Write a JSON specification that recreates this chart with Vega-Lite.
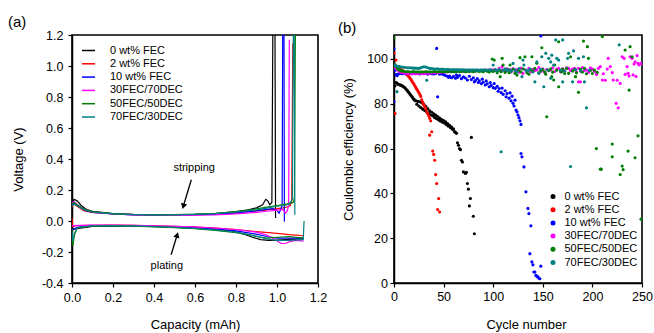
{
"$schema": "https://vega.github.io/schema/vega-lite/v6.json",
"background": "white",
"padding": {"left": 7, "top": 14, "right": 0, "bottom": 0},
"spacing": 76,
"bounds": "flush",
"config": {
 "font": "Liberation Sans",
 "view": {"stroke": "#000", "strokeWidth": 1.6},
 "axis": {"labelFont": "Liberation Sans", "titleFont": "Liberation Sans", "labelFontSize": 12.5, "titleFontSize": 13, "titleFontWeight": "normal", "labelColor": "#000", "titleColor": "#000", "domainColor": "#000", "tickColor": "#000", "tickSize": 4, "grid": false, "domainWidth": 1.5, "tickWidth": 1.2, "labelOverlap": false},
 "legend": {"labelFont": "Liberation Sans", "labelColor": "#000", "labelFontSize": 11},
 "title": {"font": "Liberation Sans", "fontSize": 15, "fontWeight": "normal", "color": "#000"}
},
"datasets": {
 "volt": [
  {"s":"0 wt% FEC","b":"s","x":0,"v":0.1},{"s":"0 wt% FEC","b":"s","x":0.01,"v":0.14},{"s":"0 wt% FEC","b":"s","x":0.025,"v":0.13},{"s":"0 wt% FEC","b":"s","x":0.045,"v":0.1},{"s":"0 wt% FEC","b":"s","x":0.07,"v":0.075},{"s":"0 wt% FEC","b":"s","x":0.1,"v":0.062},{"s":"0 wt% FEC","b":"s","x":0.2,"v":0.048},{"s":"0 wt% FEC","b":"s","x":0.3,"v":0.043},{"s":"0 wt% FEC","b":"s","x":0.4,"v":0.041},{"s":"0 wt% FEC","b":"s","x":0.5,"v":0.041},{"s":"0 wt% FEC","b":"s","x":0.6,"v":0.043},{"s":"0 wt% FEC","b":"s","x":0.7,"v":0.048},{"s":"0 wt% FEC","b":"s","x":0.8,"v":0.06},{"s":"0 wt% FEC","b":"s","x":0.86,"v":0.072},{"s":"0 wt% FEC","b":"s","x":0.9,"v":0.085},{"s":"0 wt% FEC","b":"s","x":0.93,"v":0.105},{"s":"0 wt% FEC","b":"s","x":0.945,"v":0.14},{"s":"0 wt% FEC","b":"s","x":0.955,"v":0.13},{"s":"0 wt% FEC","b":"s","x":0.965,"v":0.105},{"s":"0 wt% FEC","b":"s","x":0.975,"v":0.12},{"s":"0 wt% FEC","b":"s","x":0.98,"v":1.3},{"s":"0 wt% FEC","b":"s","x":0.99,"v":1.3},{"s":"0 wt% FEC","b":"s","x":0.993,"v":0.02},
  {"s":"0 wt% FEC","b":"p","x":0,"v":-0.02},{"s":"0 wt% FEC","b":"p","x":0.005,"v":-0.055},{"s":"0 wt% FEC","b":"p","x":0.02,"v":-0.05},{"s":"0 wt% FEC","b":"p","x":0.05,"v":-0.045},{"s":"0 wt% FEC","b":"p","x":0.1,"v":-0.035},{"s":"0 wt% FEC","b":"p","x":0.2,"v":-0.03},{"s":"0 wt% FEC","b":"p","x":0.3,"v":-0.031},{"s":"0 wt% FEC","b":"p","x":0.4,"v":-0.035},{"s":"0 wt% FEC","b":"p","x":0.5,"v":-0.04},{"s":"0 wt% FEC","b":"p","x":0.6,"v":-0.046},{"s":"0 wt% FEC","b":"p","x":0.7,"v":-0.055},{"s":"0 wt% FEC","b":"p","x":0.8,"v":-0.07},{"s":"0 wt% FEC","b":"p","x":0.85,"v":-0.09},{"s":"0 wt% FEC","b":"p","x":0.88,"v":-0.105},{"s":"0 wt% FEC","b":"p","x":0.92,"v":-0.12},{"s":"0 wt% FEC","b":"p","x":0.96,"v":-0.125},{"s":"0 wt% FEC","b":"p","x":1.0,"v":-0.123},{"s":"0 wt% FEC","b":"p","x":1.06,"v":-0.118},{"s":"0 wt% FEC","b":"p","x":1.13,"v":-0.115},
  {"s":"2 wt% FEC","b":"s","x":0,"v":0.09},{"s":"2 wt% FEC","b":"s","x":0.01,"v":0.11},{"s":"2 wt% FEC","b":"s","x":0.03,"v":0.09},{"s":"2 wt% FEC","b":"s","x":0.06,"v":0.065},{"s":"2 wt% FEC","b":"s","x":0.1,"v":0.055},{"s":"2 wt% FEC","b":"s","x":0.2,"v":0.045},{"s":"2 wt% FEC","b":"s","x":0.3,"v":0.041},{"s":"2 wt% FEC","b":"s","x":0.4,"v":0.039},{"s":"2 wt% FEC","b":"s","x":0.5,"v":0.039},{"s":"2 wt% FEC","b":"s","x":0.6,"v":0.041},{"s":"2 wt% FEC","b":"s","x":0.7,"v":0.045},{"s":"2 wt% FEC","b":"s","x":0.8,"v":0.052},{"s":"2 wt% FEC","b":"s","x":0.9,"v":0.065},{"s":"2 wt% FEC","b":"s","x":0.95,"v":0.072},{"s":"2 wt% FEC","b":"s","x":1.0,"v":0.08},{"s":"2 wt% FEC","b":"s","x":1.03,"v":0.085},{"s":"2 wt% FEC","b":"s","x":1.05,"v":0.09},{"s":"2 wt% FEC","b":"s","x":1.065,"v":0.1},{"s":"2 wt% FEC","b":"s","x":1.072,"v":0.13},{"s":"2 wt% FEC","b":"s","x":1.077,"v":1.146},
  {"s":"2 wt% FEC","b":"p","x":0,"v":0.02},{"s":"2 wt% FEC","b":"p","x":0.003,"v":-0.035},{"s":"2 wt% FEC","b":"p","x":0.02,"v":-0.03},{"s":"2 wt% FEC","b":"p","x":0.1,"v":-0.028},{"s":"2 wt% FEC","b":"p","x":0.2,"v":-0.027},{"s":"2 wt% FEC","b":"p","x":0.3,"v":-0.028},{"s":"2 wt% FEC","b":"p","x":0.4,"v":-0.031},{"s":"2 wt% FEC","b":"p","x":0.5,"v":-0.035},{"s":"2 wt% FEC","b":"p","x":0.6,"v":-0.04},{"s":"2 wt% FEC","b":"p","x":0.7,"v":-0.046},{"s":"2 wt% FEC","b":"p","x":0.8,"v":-0.055},{"s":"2 wt% FEC","b":"p","x":0.9,"v":-0.068},{"s":"2 wt% FEC","b":"p","x":1.0,"v":-0.08},{"s":"2 wt% FEC","b":"p","x":1.06,"v":-0.088},{"s":"2 wt% FEC","b":"p","x":1.13,"v":-0.095},
  {"s":"10 wt% FEC","b":"s","x":0,"v":0.1},{"s":"10 wt% FEC","b":"s","x":0.01,"v":0.12},{"s":"10 wt% FEC","b":"s","x":0.03,"v":0.1},{"s":"10 wt% FEC","b":"s","x":0.06,"v":0.07},{"s":"10 wt% FEC","b":"s","x":0.1,"v":0.055},{"s":"10 wt% FEC","b":"s","x":0.2,"v":0.045},{"s":"10 wt% FEC","b":"s","x":0.3,"v":0.04},{"s":"10 wt% FEC","b":"s","x":0.4,"v":0.038},{"s":"10 wt% FEC","b":"s","x":0.5,"v":0.038},{"s":"10 wt% FEC","b":"s","x":0.6,"v":0.04},{"s":"10 wt% FEC","b":"s","x":0.7,"v":0.044},{"s":"10 wt% FEC","b":"s","x":0.8,"v":0.052},{"s":"10 wt% FEC","b":"s","x":0.9,"v":0.065},{"s":"10 wt% FEC","b":"s","x":0.95,"v":0.075},{"s":"10 wt% FEC","b":"s","x":0.98,"v":0.08},{"s":"10 wt% FEC","b":"s","x":1.0,"v":0.07},{"s":"10 wt% FEC","b":"s","x":1.01,"v":0.05},{"s":"10 wt% FEC","b":"s","x":1.02,"v":0.08},{"s":"10 wt% FEC","b":"s","x":1.025,"v":0.1},{"s":"10 wt% FEC","b":"s","x":1.028,"v":1.3},{"s":"10 wt% FEC","b":"s","x":1.034,"v":1.3},{"s":"10 wt% FEC","b":"s","x":1.036,"v":-0.005},
  {"s":"10 wt% FEC","b":"p","x":0,"v":-0.06},{"s":"10 wt% FEC","b":"p","x":0.01,"v":-0.05},{"s":"10 wt% FEC","b":"p","x":0.03,"v":-0.04},{"s":"10 wt% FEC","b":"p","x":0.1,"v":-0.032},{"s":"10 wt% FEC","b":"p","x":0.2,"v":-0.03},{"s":"10 wt% FEC","b":"p","x":0.3,"v":-0.031},{"s":"10 wt% FEC","b":"p","x":0.4,"v":-0.034},{"s":"10 wt% FEC","b":"p","x":0.5,"v":-0.039},{"s":"10 wt% FEC","b":"p","x":0.6,"v":-0.044},{"s":"10 wt% FEC","b":"p","x":0.7,"v":-0.052},{"s":"10 wt% FEC","b":"p","x":0.8,"v":-0.064},{"s":"10 wt% FEC","b":"p","x":0.9,"v":-0.085},{"s":"10 wt% FEC","b":"p","x":0.95,"v":-0.1},{"s":"10 wt% FEC","b":"p","x":1.0,"v":-0.11},{"s":"10 wt% FEC","b":"p","x":1.06,"v":-0.11},{"s":"10 wt% FEC","b":"p","x":1.13,"v":-0.11},
  {"s":"30FEC/70DEC","b":"s","x":0,"v":0.12},{"s":"30FEC/70DEC","b":"s","x":0.01,"v":0.125},{"s":"30FEC/70DEC","b":"s","x":0.03,"v":0.1},{"s":"30FEC/70DEC","b":"s","x":0.06,"v":0.075},{"s":"30FEC/70DEC","b":"s","x":0.1,"v":0.058},{"s":"30FEC/70DEC","b":"s","x":0.2,"v":0.045},{"s":"30FEC/70DEC","b":"s","x":0.3,"v":0.04},{"s":"30FEC/70DEC","b":"s","x":0.4,"v":0.037},{"s":"30FEC/70DEC","b":"s","x":0.5,"v":0.036},{"s":"30FEC/70DEC","b":"s","x":0.6,"v":0.037},{"s":"30FEC/70DEC","b":"s","x":0.7,"v":0.04},{"s":"30FEC/70DEC","b":"s","x":0.8,"v":0.046},{"s":"30FEC/70DEC","b":"s","x":0.9,"v":0.056},{"s":"30FEC/70DEC","b":"s","x":0.95,"v":0.063},{"s":"30FEC/70DEC","b":"s","x":1.0,"v":0.07},{"s":"30FEC/70DEC","b":"s","x":1.03,"v":0.075},{"s":"30FEC/70DEC","b":"s","x":1.04,"v":0.05},{"s":"30FEC/70DEC","b":"s","x":1.05,"v":0.065},{"s":"30FEC/70DEC","b":"s","x":1.057,"v":0.1},{"s":"30FEC/70DEC","b":"s","x":1.06,"v":1.17},
  {"s":"30FEC/70DEC","b":"p","x":0,"v":-0.03},{"s":"30FEC/70DEC","b":"p","x":0.01,"v":-0.03},{"s":"30FEC/70DEC","b":"p","x":0.05,"v":-0.028},{"s":"30FEC/70DEC","b":"p","x":0.1,"v":-0.027},{"s":"30FEC/70DEC","b":"p","x":0.2,"v":-0.027},{"s":"30FEC/70DEC","b":"p","x":0.3,"v":-0.028},{"s":"30FEC/70DEC","b":"p","x":0.4,"v":-0.031},{"s":"30FEC/70DEC","b":"p","x":0.5,"v":-0.034},{"s":"30FEC/70DEC","b":"p","x":0.6,"v":-0.038},{"s":"30FEC/70DEC","b":"p","x":0.7,"v":-0.045},{"s":"30FEC/70DEC","b":"p","x":0.8,"v":-0.055},{"s":"30FEC/70DEC","b":"p","x":0.9,"v":-0.072},{"s":"30FEC/70DEC","b":"p","x":0.95,"v":-0.09},{"s":"30FEC/70DEC","b":"p","x":0.99,"v":-0.12},{"s":"30FEC/70DEC","b":"p","x":1.02,"v":-0.145},{"s":"30FEC/70DEC","b":"p","x":1.04,"v":-0.145},{"s":"30FEC/70DEC","b":"p","x":1.07,"v":-0.13},{"s":"30FEC/70DEC","b":"p","x":1.1,"v":-0.125},{"s":"30FEC/70DEC","b":"p","x":1.13,"v":-0.13},
  {"s":"50FEC/50DEC","b":"s","x":0,"v":0.11},{"s":"50FEC/50DEC","b":"s","x":0.01,"v":0.12},{"s":"50FEC/50DEC","b":"s","x":0.03,"v":0.1},{"s":"50FEC/50DEC","b":"s","x":0.06,"v":0.075},{"s":"50FEC/50DEC","b":"s","x":0.1,"v":0.06},{"s":"50FEC/50DEC","b":"s","x":0.2,"v":0.047},{"s":"50FEC/50DEC","b":"s","x":0.3,"v":0.042},{"s":"50FEC/50DEC","b":"s","x":0.4,"v":0.04},{"s":"50FEC/50DEC","b":"s","x":0.5,"v":0.041},{"s":"50FEC/50DEC","b":"s","x":0.6,"v":0.044},{"s":"50FEC/50DEC","b":"s","x":0.7,"v":0.05},{"s":"50FEC/50DEC","b":"s","x":0.8,"v":0.06},{"s":"50FEC/50DEC","b":"s","x":0.85,"v":0.068},{"s":"50FEC/50DEC","b":"s","x":0.9,"v":0.078},{"s":"50FEC/50DEC","b":"s","x":0.95,"v":0.09},{"s":"50FEC/50DEC","b":"s","x":1.0,"v":0.1},{"s":"50FEC/50DEC","b":"s","x":1.05,"v":0.11},{"s":"50FEC/50DEC","b":"s","x":1.07,"v":0.115},{"s":"50FEC/50DEC","b":"s","x":1.08,"v":0.12},{"s":"50FEC/50DEC","b":"s","x":1.085,"v":0.15},{"s":"50FEC/50DEC","b":"s","x":1.09,"v":1.3},
  {"s":"50FEC/50DEC","b":"p","x":0,"v":-0.05},{"s":"50FEC/50DEC","b":"p","x":0.004,"v":-0.16},{"s":"50FEC/50DEC","b":"p","x":0.012,"v":-0.09},{"s":"50FEC/50DEC","b":"p","x":0.025,"v":-0.045},{"s":"50FEC/50DEC","b":"p","x":0.05,"v":-0.04},{"s":"50FEC/50DEC","b":"p","x":0.1,"v":-0.034},{"s":"50FEC/50DEC","b":"p","x":0.2,"v":-0.032},{"s":"50FEC/50DEC","b":"p","x":0.3,"v":-0.034},{"s":"50FEC/50DEC","b":"p","x":0.4,"v":-0.038},{"s":"50FEC/50DEC","b":"p","x":0.5,"v":-0.043},{"s":"50FEC/50DEC","b":"p","x":0.6,"v":-0.05},{"s":"50FEC/50DEC","b":"p","x":0.7,"v":-0.06},{"s":"50FEC/50DEC","b":"p","x":0.8,"v":-0.075},{"s":"50FEC/50DEC","b":"p","x":0.85,"v":-0.085},{"s":"50FEC/50DEC","b":"p","x":0.9,"v":-0.1},{"s":"50FEC/50DEC","b":"p","x":0.95,"v":-0.11},{"s":"50FEC/50DEC","b":"p","x":1.0,"v":-0.105},{"s":"50FEC/50DEC","b":"p","x":1.06,"v":-0.1},{"s":"50FEC/50DEC","b":"p","x":1.13,"v":-0.11},
  {"s":"70FEC/30DEC","b":"s","x":0,"v":0.095},{"s":"70FEC/30DEC","b":"s","x":0.01,"v":0.11},{"s":"70FEC/30DEC","b":"s","x":0.03,"v":0.095},{"s":"70FEC/30DEC","b":"s","x":0.06,"v":0.072},{"s":"70FEC/30DEC","b":"s","x":0.1,"v":0.058},{"s":"70FEC/30DEC","b":"s","x":0.2,"v":0.046},{"s":"70FEC/30DEC","b":"s","x":0.3,"v":0.041},{"s":"70FEC/30DEC","b":"s","x":0.4,"v":0.04},{"s":"70FEC/30DEC","b":"s","x":0.5,"v":0.04},{"s":"70FEC/30DEC","b":"s","x":0.6,"v":0.043},{"s":"70FEC/30DEC","b":"s","x":0.7,"v":0.048},{"s":"70FEC/30DEC","b":"s","x":0.8,"v":0.058},{"s":"70FEC/30DEC","b":"s","x":0.9,"v":0.072},{"s":"70FEC/30DEC","b":"s","x":0.95,"v":0.083},{"s":"70FEC/30DEC","b":"s","x":1.0,"v":0.095},{"s":"70FEC/30DEC","b":"s","x":1.04,"v":0.1},{"s":"70FEC/30DEC","b":"s","x":1.06,"v":0.11},{"s":"70FEC/30DEC","b":"s","x":1.075,"v":0.14},{"s":"70FEC/30DEC","b":"s","x":1.08,"v":1.3},{"s":"70FEC/30DEC","b":"s","x":1.084,"v":1.3},{"s":"70FEC/30DEC","b":"s","x":1.087,"v":0.04},
  {"s":"70FEC/30DEC","b":"p","x":0,"v":-0.07},{"s":"70FEC/30DEC","b":"p","x":0.004,"v":-0.13},{"s":"70FEC/30DEC","b":"p","x":0.012,"v":-0.08},{"s":"70FEC/30DEC","b":"p","x":0.025,"v":-0.045},{"s":"70FEC/30DEC","b":"p","x":0.05,"v":-0.038},{"s":"70FEC/30DEC","b":"p","x":0.1,"v":-0.032},{"s":"70FEC/30DEC","b":"p","x":0.2,"v":-0.03},{"s":"70FEC/30DEC","b":"p","x":0.3,"v":-0.032},{"s":"70FEC/30DEC","b":"p","x":0.4,"v":-0.036},{"s":"70FEC/30DEC","b":"p","x":0.5,"v":-0.041},{"s":"70FEC/30DEC","b":"p","x":0.6,"v":-0.047},{"s":"70FEC/30DEC","b":"p","x":0.7,"v":-0.057},{"s":"70FEC/30DEC","b":"p","x":0.8,"v":-0.072},{"s":"70FEC/30DEC","b":"p","x":0.9,"v":-0.098},{"s":"70FEC/30DEC","b":"p","x":0.95,"v":-0.115},{"s":"70FEC/30DEC","b":"p","x":1.0,"v":-0.125},{"s":"70FEC/30DEC","b":"p","x":1.06,"v":-0.125},{"s":"70FEC/30DEC","b":"p","x":1.128,"v":-0.12},{"s":"70FEC/30DEC","b":"p","x":1.132,"v":0.0}
 ],
 "arrows": [
  {"a":"s","x":0.582,"v":0.266},{"a":"s","x":0.543,"v":0.095},
  {"a":"p","x":0.4835,"v":-0.218},{"a":"p","x":0.513,"v":-0.09}
 ],
 "notes": [
  {"t":"stripping","x":0.596,"v":0.341},{"t":"plating","x":0.4625,"v":-0.293}
 ],
 "k0": [{"c":1,"e":88.0},{"c":2,"e":89.5},{"c":3,"e":89.2},{"c":4,"e":88.8},{"c":5,"e":88.6},{"c":6,"e":88.4},{"c":7,"e":88.3},{"c":8,"e":88.1},{"c":9,"e":87.8},{"c":10,"e":87.5},{"c":11,"e":87.1},{"c":12,"e":86.6},{"c":13,"e":86.1},{"c":14,"e":85.5},{"c":15,"e":85.0},{"c":16,"e":84.4},{"c":17,"e":83.8},{"c":18,"e":83.2},{"c":19,"e":82.6},{"c":20,"e":82.0},{"c":21,"e":81.6},{"c":22,"e":81.3},{"c":23,"e":79.8},{"c":24,"e":81.1},{"c":25,"e":79.0},{"c":26,"e":80.9},{"c":27,"e":78.3},{"c":28,"e":80.5},{"c":29,"e":77.6},{"c":30,"e":79.8},{"c":31,"e":77.0},{"c":32,"e":78.9},{"c":33,"e":76.3},{"c":34,"e":77.8},{"c":35,"e":75.6},{"c":36,"e":76.8},{"c":37,"e":75.0},{"c":38,"e":76.2},{"c":39,"e":74.6},{"c":40,"e":75.5},{"c":41,"e":73.8},{"c":42,"e":74.9},{"c":43,"e":73.3},{"c":44,"e":74.3},{"c":45,"e":72.8},{"c":46,"e":73.6},{"c":47,"e":72.2},{"c":48,"e":73.0},{"c":49,"e":71.8},{"c":50,"e":72.5},{"c":51,"e":71.3},{"c":52,"e":71.9},{"c":53,"e":70.6},{"c":54,"e":71.2},{"c":55,"e":70.0},{"c":56,"e":70.4},{"c":57,"e":69.3},{"c":58,"e":69.6},{"c":59,"e":68.6},{"c":60,"e":68.8},{"c":61,"e":67.6},{"c":62,"e":67.2},{"c":63,"e":66.8},{"c":64,"e":62.6},{"c":65,"e":61.5},{"c":66,"e":60.0},{"c":67,"e":59.5},{"c":68,"e":54.8},{"c":69,"e":54.0},{"c":70,"e":49.6},{"c":72,"e":48.9},{"c":73,"e":49.4},{"c":74,"e":44.4},{"c":75,"e":41.9},{"c":76,"e":34.4},{"c":77,"e":37.7},{"c":78,"e":65.0},{"c":80,"e":29.8},{"c":81,"e":22.0}],
 "k2": [{"c":0,"e":102.5},{"c":1,"e":75.7},{"c":2,"e":99.5},{"c":3,"e":96.3},{"c":4,"e":96.0},{"c":5,"e":95.7},{"c":6,"e":95.5},{"c":7,"e":95.2},{"c":8,"e":95.0},{"c":9,"e":94.7},{"c":10,"e":94.4},{"c":11,"e":94.0},{"c":12,"e":93.6},{"c":13,"e":93.1},{"c":14,"e":92.6},{"c":15,"e":92.1},{"c":16,"e":91.5},{"c":17,"e":90.9},{"c":18,"e":90.2},{"c":19,"e":89.5},{"c":20,"e":88.8},{"c":21,"e":88.0},{"c":22,"e":87.3},{"c":23,"e":86.5},{"c":24,"e":85.8},{"c":25,"e":85.0},{"c":26,"e":84.2},{"c":27,"e":83.3},{"c":28,"e":81.8},{"c":29,"e":80.6},{"c":30,"e":79.6},{"c":31,"e":78.7},{"c":32,"e":77.8},{"c":33,"e":76.4},{"c":34,"e":75.6},{"c":35,"e":74.6},{"c":36,"e":73.5},{"c":36,"e":66.0},{"c":37,"e":72.4},{"c":38,"e":67.5},{"c":39,"e":58.9},{"c":40,"e":57.4},{"c":41,"e":54.8},{"c":42,"e":48.4},{"c":43,"e":44.4},{"c":44,"e":32.8},{"c":45,"e":37.7},{"c":46,"e":31.7}],
 "k10": [{"c":0,"e":104.5},{"c":0,"e":81.0},{"c":1,"e":95.0},{"c":2,"e":93.0},{"c":3,"e":92.5},{"c":4,"e":93.2},{"c":6,"e":93.6},{"c":8,"e":93.4},{"c":10,"e":93.5},{"c":12,"e":93.3},{"c":14,"e":93.6},{"c":16,"e":93.5},{"c":18,"e":93.4},{"c":20,"e":93.6},{"c":22,"e":93.4},{"c":24,"e":93.5},{"c":26,"e":93.3},{"c":28,"e":93.6},{"c":30,"e":93.4},{"c":32,"e":93.5},{"c":34,"e":93.2},{"c":36,"e":93.6},{"c":38,"e":93.4},{"c":40,"e":93.3},{"c":42,"e":93.5},{"c":43,"e":104.7},{"c":44,"e":83.1},{"c":46,"e":93.2},{"c":48,"e":93.4},{"c":50,"e":93.0},{"c":52,"e":92.6},{"c":54,"e":92.3},{"c":55,"e":91.8},{"c":56,"e":92.4},{"c":58,"e":91.6},{"c":60,"e":92.2},{"c":62,"e":91.4},{"c":63,"e":92.8},{"c":64,"e":91.8},{"c":66,"e":92.6},{"c":68,"e":91.2},{"c":70,"e":92.0},{"c":72,"e":91.5},{"c":74,"e":90.6},{"c":76,"e":92.3},{"c":78,"e":90.8},{"c":80,"e":91.6},{"c":81,"e":89.8},{"c":82,"e":90.4},{"c":84,"e":91.2},{"c":85,"e":89.5},{"c":86,"e":90.2},{"c":88,"e":89.0},{"c":89,"e":91.0},{"c":90,"e":89.6},{"c":92,"e":88.4},{"c":93,"e":90.2},{"c":94,"e":88.9},{"c":96,"e":87.6},{"c":97,"e":89.5},{"c":98,"e":88.2},{"c":100,"e":87.2},{"c":101,"e":89.0},{"c":102,"e":86.9},{"c":104,"e":87.8},{"c":105,"e":85.6},{"c":106,"e":86.8},{"c":108,"e":85.0},{"c":109,"e":87.0},{"c":110,"e":84.2},{"c":112,"e":85.8},{"c":113,"e":83.1},{"c":114,"e":84.6},{"c":116,"e":82.5},{"c":117,"e":84.9},{"c":118,"e":81.3},{"c":119,"e":83.4},{"c":120,"e":80.2},{"c":121,"e":79.0},{"c":122,"e":81.6},{"c":123,"e":77.2},{"c":124,"e":76.4},{"c":125,"e":75.0},{"c":126,"e":73.8},{"c":127,"e":72.4},{"c":128,"e":70.8},{"c":128,"e":57.8},{"c":129,"e":56.3},{"c":131,"e":51.8},{"c":133,"e":40.7},{"c":135,"e":33.3},{"c":136,"e":31.0},{"c":137,"e":13.1},{"c":138,"e":25.5},{"c":139,"e":9.4},{"c":140,"e":8.1},{"c":141,"e":4.9},{"c":142,"e":4.9},{"c":143,"e":3.4},{"c":144,"e":3.1},{"c":145,"e":2.7},{"c":146,"e":2.2},{"c":147,"e":1.9},{"c":148,"e":7.5},{"c":148,"e":110.3}],
 "k30": [{"c":0,"e":96.5},{"c":1,"e":96.2},{"c":2,"e":95.8},{"c":3,"e":95.4},{"c":4,"e":95.0},{"c":5,"e":94.7},{"c":6,"e":94.4},{"c":7,"e":94.2},{"c":8,"e":94.0},{"c":9,"e":93.9},{"c":10,"e":93.8},{"c":12,"e":93.6},{"c":14,"e":93.5},{"c":16,"e":93.5},{"c":18,"e":93.4},{"c":20,"e":93.5},{"c":22,"e":93.4},{"c":24,"e":93.5},{"c":26,"e":93.4},{"c":28,"e":93.5},{"c":30,"e":93.5},{"c":32,"e":93.6},{"c":34,"e":93.5},{"c":36,"e":93.7},{"c":38,"e":93.8},{"c":40,"e":93.8},{"c":42,"e":93.9},{"c":44,"e":94.0},{"c":46,"e":94.0},{"c":48,"e":94.1},{"c":50,"e":94.2},{"c":52,"e":94.2},{"c":54,"e":94.3},{"c":56,"e":94.3},{"c":58,"e":94.4},{"c":60,"e":94.4},{"c":62,"e":94.5},{"c":64,"e":94.4},{"c":66,"e":94.5},{"c":68,"e":94.6},{"c":70,"e":94.5},{"c":72,"e":94.6},{"c":74,"e":94.7},{"c":76,"e":94.6},{"c":78,"e":94.7},{"c":80,"e":94.8},{"c":82,"e":94.7},{"c":84,"e":94.8},{"c":86,"e":94.9},{"c":88,"e":94.8},{"c":90,"e":94.9},{"c":92,"e":95.0},{"c":94,"e":94.9},{"c":96,"e":95.0},{"c":98,"e":95.1},{"c":100,"e":95.0},{"c":102,"e":95.3},{"c":104,"e":94.6},{"c":106,"e":95.8},{"c":108,"e":94.9},{"c":109,"e":96.6},{"c":110,"e":95.2},{"c":112,"e":94.4},{"c":114,"e":95.6},{"c":116,"e":95.0},{"c":117,"e":95.1},{"c":118,"e":94.2},{"c":120,"e":95.7},{"c":122,"e":94.8},{"c":124,"e":95.3},{"c":126,"e":94.1},{"c":128,"e":95.9},{"c":130,"e":93.6},{"c":132,"e":95.2},{"c":134,"e":94.6},{"c":136,"e":95.8},{"c":138,"e":94.3},{"c":140,"e":95.4},{"c":142,"e":94.9},{"c":144,"e":95.1},{"c":146,"e":96.2},{"c":148,"e":94.5},{"c":149,"e":94.7},{"c":150,"e":95.6},{"c":152,"e":94.0},{"c":154,"e":95.3},{"c":156,"e":94.8},{"c":158,"e":95.1},{"c":160,"e":96.0},{"c":162,"e":94.4},{"c":164,"e":95.5},{"c":166,"e":95.8},{"c":168,"e":94.2},{"c":170,"e":95.6},{"c":171,"e":95.0},{"c":172,"e":94.6},{"c":174,"e":96.1},{"c":176,"e":95.8},{"c":178,"e":94.8},{"c":180,"e":95.5},{"c":182,"e":95.8},{"c":184,"e":94.3},{"c":186,"e":95.8},{"c":186,"e":89.8},{"c":188,"e":89.8},{"c":189,"e":94.3},{"c":190,"e":96.2},{"c":192,"e":94.8},{"c":194,"e":95.1},{"c":196,"e":94.0},{"c":198,"e":96.0},{"c":200,"e":95.5},{"c":202,"e":94.5},{"c":203,"e":94.3},{"c":204,"e":93.1},{"c":206,"e":95.8},{"c":208,"e":96.6},{"c":210,"e":90.6},{"c":211,"e":93.4},{"c":213,"e":90.5},{"c":215,"e":95.5},{"c":216,"e":100.3},{"c":218,"e":96.6},{"c":220,"e":93.9},{"c":221,"e":90.6},{"c":224,"e":80.2},{"c":225,"e":90.5},{"c":226,"e":78.2},{"c":228,"e":89.1},{"c":230,"e":101.0},{"c":232,"e":100.3},{"c":233,"e":93.1},{"c":235,"e":96.6},{"c":236,"e":93.6},{"c":237,"e":92.4},{"c":238,"e":101.0},{"c":240,"e":100.3},{"c":241,"e":92.9},{"c":242,"e":97.8},{"c":243,"e":98.7},{"c":244,"e":92.2},{"c":245,"e":101.5},{"c":246,"e":98.0},{"c":247,"e":97.3},{"c":249,"e":98.0}],
 "k50": [{"c":0,"e":109.5},{"c":1,"e":97.5},{"c":2,"e":96.6},{"c":3,"e":96.0},{"c":4,"e":95.6},{"c":5,"e":95.3},{"c":6,"e":95.0},{"c":7,"e":94.8},{"c":8,"e":94.6},{"c":10,"e":94.5},{"c":12,"e":94.3},{"c":14,"e":94.4},{"c":16,"e":94.2},{"c":18,"e":94.3},{"c":20,"e":94.4},{"c":22,"e":94.2},{"c":24,"e":94.3},{"c":26,"e":94.1},{"c":28,"e":94.3},{"c":30,"e":94.2},{"c":32,"e":94.4},{"c":34,"e":94.2},{"c":36,"e":94.3},{"c":38,"e":94.2},{"c":40,"e":94.4},{"c":42,"e":94.3},{"c":44,"e":94.2},{"c":46,"e":94.4},{"c":48,"e":94.3},{"c":50,"e":94.2},{"c":52,"e":94.4},{"c":54,"e":94.3},{"c":56,"e":94.5},{"c":58,"e":94.3},{"c":60,"e":94.4},{"c":62,"e":94.2},{"c":64,"e":94.5},{"c":66,"e":94.3},{"c":68,"e":94.4},{"c":70,"e":94.6},{"c":72,"e":94.3},{"c":74,"e":94.5},{"c":76,"e":94.4},{"c":78,"e":94.6},{"c":80,"e":94.3},{"c":82,"e":94.5},{"c":84,"e":94.7},{"c":86,"e":94.4},{"c":88,"e":94.6},{"c":90,"e":94.3},{"c":92,"e":94.8},{"c":94,"e":94.5},{"c":96,"e":94.2},{"c":98,"e":94.7},{"c":99,"e":100.0},{"c":100,"e":94.4},{"c":101,"e":99.5},{"c":102,"e":95.0},{"c":104,"e":93.8},{"c":106,"e":94.9},{"c":107,"e":92.1},{"c":108,"e":94.3},{"c":109,"e":100.3},{"c":110,"e":97.3},{"c":112,"e":94.0},{"c":114,"e":95.2},{"c":116,"e":93.9},{"c":117,"e":97.3},{"c":118,"e":94.6},{"c":120,"e":95.4},{"c":122,"e":93.6},{"c":124,"e":92.8},{"c":126,"e":95.0},{"c":127,"e":100.6},{"c":128,"e":94.2},{"c":130,"e":95.6},{"c":132,"e":101.0},{"c":134,"e":93.9},{"c":136,"e":93.2},{"c":138,"e":95.1},{"c":139,"e":101.0},{"c":140,"e":94.5},{"c":142,"e":95.8},{"c":144,"e":98.1},{"c":146,"e":93.8},{"c":148,"e":94.7},{"c":149,"e":105.0},{"c":150,"e":95.3},{"c":152,"e":94.3},{"c":153,"e":93.2},{"c":154,"e":74.2},{"c":156,"e":94.8},{"c":158,"e":95.6},{"c":159,"e":92.1},{"c":160,"e":94.1},{"c":161,"e":90.6},{"c":162,"e":97.3},{"c":164,"e":95.0},{"c":166,"e":107.7},{"c":166,"e":87.6},{"c":168,"e":94.4},{"c":169,"e":94.3},{"c":170,"e":95.5},{"c":172,"e":93.5},{"c":174,"e":95.8},{"c":176,"e":93.6},{"c":178,"e":101.0},{"c":180,"e":94.6},{"c":182,"e":95.2},{"c":183,"e":92.1},{"c":184,"e":93.8},{"c":186,"e":85.1},{"c":188,"e":95.4},{"c":190,"e":94.2},{"c":191,"e":108.0},{"c":192,"e":95.8},{"c":194,"e":93.4},{"c":195,"e":105.5},{"c":196,"e":100.3},{"c":198,"e":94.8},{"c":200,"e":93.5},{"c":202,"e":95.0},{"c":204,"e":60.0},{"c":205,"e":94.0},{"c":208,"e":50.8},{"c":209,"e":50.8},{"c":210,"e":110.0},{"c":220,"e":62.0},{"c":220,"e":56.3},{"c":228,"e":48.4},{"c":230,"e":52.2},{"c":231,"e":50.6},{"c":233,"e":104.0},{"c":236,"e":58.9},{"c":237,"e":86.1},{"c":238,"e":105.5},{"c":240,"e":101.0},{"c":243,"e":55.9},{"c":246,"e":65.7},{"c":249,"e":28.5}],
 "k70": [{"c":0,"e":97.0},{"c":1,"e":97.2},{"c":2,"e":96.9},{"c":3,"e":85.4},{"c":4,"e":96.7},{"c":5,"e":96.6},{"c":6,"e":96.5},{"c":8,"e":96.4},{"c":10,"e":96.3},{"c":12,"e":96.2},{"c":14,"e":96.1},{"c":16,"e":96.1},{"c":18,"e":96.0},{"c":20,"e":95.9},{"c":22,"e":95.9},{"c":24,"e":95.8},{"c":26,"e":95.9},{"c":28,"e":96.3},{"c":30,"e":96.5},{"c":32,"e":96.4},{"c":33,"e":90.5},{"c":34,"e":96.1},{"c":36,"e":95.8},{"c":38,"e":95.7},{"c":40,"e":95.6},{"c":42,"e":95.5},{"c":44,"e":95.6},{"c":46,"e":95.4},{"c":48,"e":95.5},{"c":50,"e":95.4},{"c":52,"e":95.3},{"c":54,"e":95.4},{"c":56,"e":95.3},{"c":58,"e":95.2},{"c":60,"e":95.3},{"c":62,"e":95.2},{"c":64,"e":95.3},{"c":66,"e":95.1},{"c":68,"e":95.2},{"c":70,"e":95.1},{"c":72,"e":95.2},{"c":74,"e":95.0},{"c":76,"e":95.1},{"c":78,"e":95.0},{"c":80,"e":95.2},{"c":82,"e":95.0},{"c":84,"e":95.1},{"c":86,"e":94.9},{"c":88,"e":95.1},{"c":90,"e":95.0},{"c":92,"e":95.2},{"c":94,"e":94.9},{"c":96,"e":95.1},{"c":98,"e":95.0},{"c":100,"e":97.3},{"c":102,"e":95.2},{"c":104,"e":94.6},{"c":106,"e":95.4},{"c":108,"e":58.6},{"c":110,"e":95.0},{"c":112,"e":95.6},{"c":114,"e":94.8},{"c":116,"e":95.3},{"c":118,"e":94.5},{"c":120,"e":98.0},{"c":122,"e":95.1},{"c":124,"e":94.3},{"c":126,"e":95.7},{"c":129,"e":92.1},{"c":130,"e":99.5},{"c":131,"e":97.3},{"c":133,"e":95.0},{"c":135,"e":94.6},{"c":137,"e":95.5},{"c":140,"e":94.2},{"c":142,"e":89.8},{"c":144,"e":98.7},{"c":146,"e":93.6},{"c":148,"e":95.4},{"c":149,"e":101.0},{"c":151,"e":87.6},{"c":153,"e":102.5},{"c":155,"e":95.2},{"c":156,"e":100.3},{"c":158,"e":98.7},{"c":158,"e":91.4},{"c":159,"e":101.7},{"c":161,"e":97.3},{"c":163,"e":108.5},{"c":164,"e":100.3},{"c":166,"e":99.5},{"c":168,"e":95.0},{"c":170,"e":108.5},{"c":170,"e":89.8},{"c":172,"e":94.5},{"c":175,"e":100.3},{"c":176,"e":102.5},{"c":178,"e":52.0},{"c":180,"e":89.8},{"c":181,"e":103.6},{"c":183,"e":95.3},{"c":186,"e":100.3},{"c":188,"e":94.6},{"c":191,"e":101.0},{"c":192,"e":89.8},{"c":194,"e":78.2},{"c":197,"e":95.0},{"c":227,"e":106.3}]
},
"resolve": {"scale": {"color": "independent"}, "legend": {"color": "independent"}},
"hconcat": [
 {
  "width": 246, "height": 248,
  "title": {"text": "(a)", "anchor": "start", "frame": "group", "dx": -64, "offset": -1},
  "encoding": {
   "x": {"field": "x", "type": "quantitative", "scale": {"domain": [0, 1.2], "nice": false}, "axis": {"title": "Capacity (mAh)", "values": [0, 0.2, 0.4, 0.6, 0.8, 1.0, 1.2], "format": ".1f", "labelPadding": 4, "titlePadding": 15, "labelFlush": false, "labelOverlap": false}},
   "y": {"field": "v", "type": "quantitative", "scale": {"domain": [-0.4, 1.2], "nice": false, "zero": false}, "axis": {"title": "Voltage (V)", "values": [-0.4, -0.2, 0, 0.2, 0.4, 0.6, 0.8, 1.0, 1.2], "labelExpr": "(datum.value < 0 ? '-' : '') + format(abs(datum.value), '.1f')", "labelPadding": 5, "titlePadding": 16, "labelFlush": false, "labelOverlap": false}}
  },
  "layer": [
   {
    "data": {"name": "volt"},
    "mark": {"type": "line", "clip": true, "strokeWidth": 1.2},
    "encoding": {
     "color": {"field": "s", "type": "nominal", "scale": {"domain": ["0 wt% FEC", "2 wt% FEC", "10 wt% FEC", "30FEC/70DEC", "50FEC/50DEC", "70FEC/30DEC"], "range": ["#000000", "#ff0000", "#0000ff", "#ff00ff", "#008000", "#008080"]}, "legend": {"orient": "none", "legendX": 9, "legendY": 8, "title": null, "symbolType": "stroke", "symbolStrokeWidth": 1.5, "symbolSize": 169, "labelOffset": 14, "rowPadding": 0.3, "padding": 0}},
     "detail": {"field": "b"}
    }
   },
   {
    "data": {"name": "arrows"},
    "mark": {"type": "line", "color": "#000", "strokeWidth": 1.3},
    "encoding": {"detail": {"field": "a"}}
   },
   {
    "data": {"values": [{"x": 0.543, "v": 0.095}]},
    "mark": {"type": "point", "shape": "triangle-up", "filled": true, "color": "#000", "size": 40, "angle": 196, "opacity": 1}
   },
   {
    "data": {"values": [{"x": 0.513, "v": -0.09}]},
    "mark": {"type": "point", "shape": "triangle-up", "filled": true, "color": "#000", "size": 40, "angle": 17, "opacity": 1}
   },
   {
    "data": {"name": "notes"},
    "mark": {"type": "text", "fontSize": 11, "font": "Liberation Sans", "color": "#000", "align": "center", "baseline": "middle"},
    "encoding": {"text": {"field": "t"}}
   }
  ]
 },
 {
  "width": 248, "height": 248,
  "title": {"text": "(b)", "anchor": "start", "frame": "group", "dx": -56, "offset": -1},
  "encoding": {
   "x": {"field": "c", "type": "quantitative", "scale": {"domain": [0, 250], "nice": false}, "axis": {"title": "Cycle number", "values": [0, 50, 100, 150, 200, 250], "labelPadding": 3, "titlePadding": 16, "labelFlush": false, "titleX": 132}},
   "y": {"field": "e", "type": "quantitative", "scale": {"domain": [0, 110.7], "nice": false}, "axis": {"title": "Coulombic efficiency (%)", "values": [0, 20, 40, 60, 80, 100], "labelPadding": 2.5, "titlePadding": 11, "labelFlush": false, "titleY": 114}}
  },
  "layer": [
   {"data": {"name": "k0"}, "mark": {"type": "point", "filled": true, "size": 10, "opacity": 1, "clip": true}, "encoding": {"color": {"datum": "0 wt% FEC", "scale": {"domain": ["0 wt% FEC", "2 wt% FEC", "10 wt% FEC", "30FEC/70DEC", "50FEC/50DEC", "70FEC/30DEC"], "range": ["#000000", "#ff0000", "#0000ff", "#ff00ff", "#008000", "#008080"]}, "legend": {"orient": "none", "legendX": 153.5, "legendY": 156, "title": null, "symbolType": "circle", "symbolSize": 25, "labelOffset": 6, "rowPadding": 1.2, "padding": 0}}}},
   {"data": {"name": "k2"}, "mark": {"type": "point", "filled": true, "size": 10, "opacity": 1, "clip": true}, "encoding": {"color": {"datum": "2 wt% FEC"}}},
   {"data": {"name": "k10"}, "mark": {"type": "point", "filled": true, "size": 10, "opacity": 1, "clip": true}, "encoding": {"color": {"datum": "10 wt% FEC"}}},
   {"data": {"name": "k30"}, "mark": {"type": "point", "filled": true, "size": 10, "opacity": 1, "clip": true}, "encoding": {"color": {"datum": "30FEC/70DEC"}}},
   {"data": {"name": "k50"}, "mark": {"type": "point", "filled": true, "size": 10, "opacity": 1, "clip": true}, "encoding": {"color": {"datum": "50FEC/50DEC"}}},
   {"data": {"name": "k70"}, "mark": {"type": "point", "filled": true, "size": 10, "opacity": 1, "clip": true}, "encoding": {"color": {"datum": "70FEC/30DEC"}}}
  ]
 }
]
}
